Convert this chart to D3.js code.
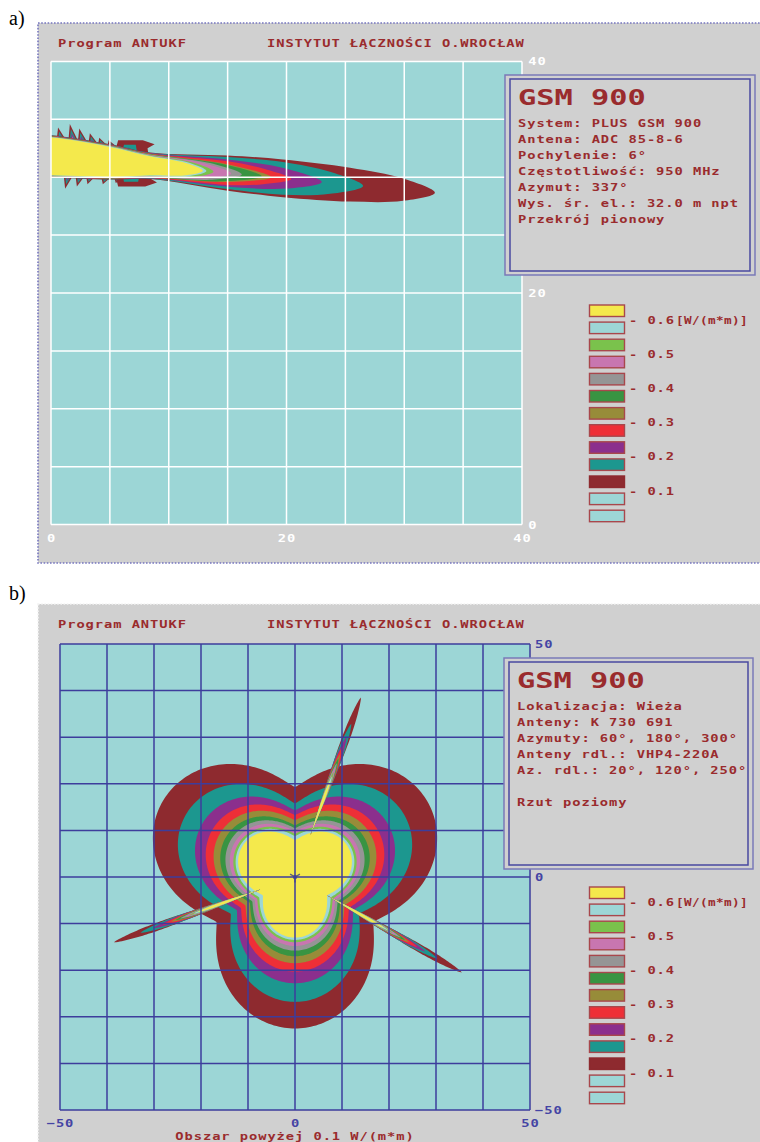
<!DOCTYPE html>
<html>
<head>
<meta charset="utf-8">
<script src="https://cdn.jsdelivr.net/npm/d3@7"></script>
<style>
  body { margin: 0; background: #fff; }
  svg { display: block; }
  .mono { font-family: "DejaVu Sans Mono", monospace; font-weight: bold; }
</style>
</head>
<body>
<svg id="chart" width="760" height="1142"></svg>
<script>
// ---- data ----
// contour levels, inside (yellow) to outside (dark red)
var levelColors = ["#f4e94c", "#9dd6d6", "#7ac24c", "#c876b0", "#959595", "#389442",
    "#978c39", "#ee2f37", "#8b2f8d", "#1c978f", "#8e2a2f"];
var legendColors = levelColors.concat(["#9dd6d6", "#9dd6d6"]);
var legendLabels = ["0.6", "0.5", "0.4", "0.3", "0.2", "0.1"];
var legendUnit = "[W/(m*m)]";

var headerLeft = "Program ANTUKF";
var headerRight = "INSTYTUT ŁĄCZNOŚCI O.WROCŁAW";

// a) vertical section (distance m, height m)
var sectionTicks = [0, 20, 40];
var sectionInfo = ["System: PLUS GSM 900", "Antena: ADC 85-8-6", "Pochylenie: 6°",
    "Częstotliwość: 950 MHz", "Azymut: 337°", "Wys. śr. el.: 32.0 m npt", "Przekrój pionowy"];
var beamHeight = 31.8;     // lobe axis at x = 0
var axisTilt = 5.5;        // lobe axis slope as drawn, degrees
var lobeReach = [12.9, 13.2, 13.8, 15.3, 16.2, 17.9, 18.7, 20.4, 23.0, 26.5, 32.6];
// [distance, half width] along the lobe axis, m
var lobeProfiles = [
    [[0, 1.62], [5, 1.30], [8.4, 0.82], [11.5, 0.52]],
    [[0, 1.64], [5, 1.33], [8.4, 0.86], [11.8, 0.56]],
    [[0, 1.66], [5, 1.36], [8.4, 0.90], [12.2, 0.60]],
    [[0, 1.68], [5, 1.38], [8.4, 0.94], [13.0, 0.66]],
    [[0, 1.70], [5, 1.40], [8.4, 0.97], [13.5, 0.72]],
    [[0, 1.72], [5, 1.42], [8.4, 1.00], [14.5, 0.76]],
    [[0, 1.74], [5, 1.44], [8.4, 1.03], [15.0, 0.76]],
    [[0, 1.76], [5, 1.46], [8.4, 1.06], [15.0, 1.02], [18.0, 0.68]],
    [[0, 1.78], [5, 1.48], [8.4, 1.09], [15.0, 1.17], [20.0, 0.86]],
    [[0, 1.80], [5, 1.50], [8.4, 1.12], [15.0, 1.38], [19.7, 1.42], [23.7, 0.95]],
    [[0, 1.82], [5, 1.52], [8.4, 1.15], [15.0, 1.52], [19.7, 1.63], [25.4, 1.46], [29.9, 0.96]]
];
var upperSpikes = [[0.6, 34.3], [1.6, 34.6], [2.4, 34.2], [3.3, 33.8], [4.1, 33.4], [4.9, 33.2]];
var lowerSpikes = [[1.2, 29.0], [2.2, 29.2], [3.1, 29.4], [4.4, 29.4], [5.5, 29.5]];
var sideWings = [[5.2, 8.8, 33.2], [5.2, 9.0, 29.2]];

// b) plan view (m)
var planTicks = [-50, 0, 50];
var planInfo = ["Lokalizacja: Wieża", "Anteny: K 730 691", "Azymuty: 60°, 180°, 300°",
    "Anteny rdl.: VHP4-220A", "Az. rdl.: 20°, 120°, 250°", "", "Rzut poziomy"];
var planCaption = "Obszar powyżej 0.1 W/(m*m)";
var lobeAzimuths = [60, 180, 300];
var contourMax = [13.0, 13.5, 14.0, 14.8, 15.8, 17.0, 18.5, 20.3, 22.8, 26.8, 32.5];
var contourMin = [7.9, 8.8, 9.3, 9.9, 10.5, 11.1, 12.2, 13.3, 14.3, 15.8, 19.3];
var linkAzimuths = [20, 120, 250];
var linkStart = [9.5, 7.8, 7.6];
var linkLevelReach = [22, 23, 24, 25, 26, 27, 28, 30, 32, 35, 41];
var linkWidth = [0.25, 0.3, 0.35, 0.4, 0.45, 0.5, 0.55, 0.6, 0.65, 0.75, 0.85];

var textRed = "#9a2b2d";
var gray = "#d0d0d0";
var sea = "#9cd6d6";
var deg = Math.PI / 180;

var svg = d3.select("#chart");

// wide bitmap-like text: glyphs stretched horizontally
function monoText(g, x, y, str, size, stretch, spacing, color) {
    return g.append("text")
        .attr("class", "mono")
        .attr("transform", "translate(" + x + "," + y + ") scale(" + stretch + ",1)")
        .attr("font-size", size)
        .attr("letter-spacing", spacing)
        .attr("fill", color || textRed)
        .text(str);
}
function smallText(g, x, y, str, color) {
    return monoText(g, x, y, str, 11, 1.25, 0.75, color);
}

function panel(top, height, borderColor, label, labelY) {
    svg.append("text")
        .attr("x", 9).attr("y", labelY)
        .attr("font-family", "Liberation Serif, serif")
        .attr("font-size", 20)
        .text(label);
    svg.append("rect")
        .attr("x", 38).attr("y", top)
        .attr("width", 740).attr("height", height)
        .attr("fill", gray)
        .attr("stroke", borderColor)
        .attr("stroke-width", 1.6)
        .attr("stroke-dasharray", "1.6,1.6");
    smallText(svg, 58, top + 24, headerLeft);
    smallText(svg, 267, top + 24, headerRight);
}

function infoBox(x, y, w, h, lines) {
    svg.append("rect").attr("x", x).attr("y", y).attr("width", w).attr("height", h)
        .attr("fill", gray).attr("stroke", "#7a7ab8").attr("stroke-width", 1.5);
    svg.append("rect").attr("x", x + 5).attr("y", y + 4).attr("width", w - 10).attr("height", h - 8)
        .attr("fill", "none").attr("stroke", "#4848a0").attr("stroke-width", 1.5);
    monoText(svg, x + 13, y + 30, "GSM 900", 22, 1.38, 0, textRed);
    lines.forEach(function (s, i) {
        smallText(svg, x + 13, y + 52 + i * 16, s);
    });
}

function legend(top) {
    var g = svg.append("g");
    g.selectAll("rect").data(legendColors).enter().append("rect")
        .attr("x", 589.5).attr("y", (d, i) => top + i * 17.1)
        .attr("width", 35).attr("height", 11.5)
        .attr("fill", d => d)
        .attr("stroke", (d, i) => i === 10 ? "#8e2a2f" : "#a8474c")
        .attr("stroke-width", 1.4);
    legendLabels.forEach(function (s, i) {
        smallText(g, 629, top + 18.5 + i * 34.2, "- " + s);
    });
    monoText(g, 676, top + 18.5, legendUnit, 11, 1.15, 0.35, textRed);
}

// ================= a) vertical section =================
panel(23, 540, "#7676bf", "a)", 25);

var xA = d3.scaleLinear().domain([0, 40]).range([51, 522]);
var yA = d3.scaleLinear().domain([0, 40]).range([524.6, 61.4]);

svg.append("clipPath").attr("id", "clipA").append("rect")
    .attr("x", 51).attr("y", 61.4).attr("width", 471).attr("height", 463.2);

var plotA = svg.append("g").attr("clip-path", "url(#clipA)");
plotA.append("rect").attr("x", 51).attr("y", 61.4).attr("width", 471).attr("height", 463.2).attr("fill", sea);

function beamCenter(t) { return beamHeight - t * Math.tan(axisTilt * deg); }

var lineA = d3.line().x(d => xA(d[0])).y(d => yA(d[1]));

// side lobe spikes near the antenna
function spike(tip, side) {
    var bx = tip[0] + 0.35;
    var b = beamCenter(bx) + side * 1.2;
    [["#8e2a2f", 1], ["#1c978f", 0.75], ["#8b2f8d", 0.55], ["#c876b0", 0.4]].forEach(function (c) {
        var k = c[1];
        var ty = b + (tip[1] - b) * k;
        var tx = bx + (tip[0] - bx) * k;
        plotA.append("path")
            .attr("d", lineA([[bx - 0.5 * k, b], [tx, ty], [bx + 0.5 * k, b]]) + "Z")
            .attr("fill", c[0]);
    });
}
upperSpikes.forEach(s => spike(s, 1));
lowerSpikes.forEach(s => spike(s, -1));

// thin ledges of the side lobes, pointed at the far end
sideWings.forEach(function (w) {
    var c0 = beamCenter(w[0]), c1 = beamCenter(w[1]);
    var dir = w[2] > c0 ? -1 : 1;
    plotA.append("path")
        .attr("d", lineA([[w[0], c0], [w[0] + 0.5, w[2]], [w[1] - 1.0, w[2]],
            [w[1], w[2] + dir * 0.35], [w[1] - 0.6, w[2] + dir * 0.7], [w[1] - 0.4, c1]]) + "Z")
        .attr("fill", "#8e2a2f");
    plotA.append("path")
        .attr("d", lineA([[w[0] + 0.6, c0], [w[0] + 1.0, w[2] + dir * 0.4], [w[1] - 1.6, w[2] + dir * 0.4],
            [w[1] - 1.3, c1]]) + "Z")
        .attr("fill", "#1c978f");
    plotA.append("path")
        .attr("d", lineA([[w[0] + 1.0, c0], [w[0] + 1.3, w[2] + dir * 0.65], [w[1] - 2.2, w[2] + dir * 0.65],
            [w[1] - 2.0, c1]]) + "Z")
        .attr("fill", "#8b2f8d");
});

// main lobe, outer level first; outline through the profile points
var outlineA = d3.line().x(d => xA(d[0])).y(d => yA(d[1])).curve(d3.curveCatmullRomClosed.alpha(0.5));
d3.range(levelColors.length - 1, -1, -1).forEach(function (k) {
    var prof = lobeProfiles[k];
    var h0 = prof[0][1];
    var top = prof.map(p => [p[0], beamCenter(p[0]) + p[1]]);
    var bottom = prof.map(p => [p[0], beamCenter(p[0]) - p[1]]).reverse();
    var pts = [[-2, beamCenter(0) + h0]].concat(top, [[lobeReach[k], beamCenter(lobeReach[k])]],
        bottom, [[-2, beamCenter(0) - h0]]);
    plotA.append("path").attr("d", outlineA(pts)).attr("fill", levelColors[k]);
});

// white grid
var gridA = svg.append("g").attr("stroke", "#ffffff").attr("stroke-width", 1.5);
d3.range(0, 41, 5).forEach(function (v) {
    gridA.append("line").attr("x1", xA(v)).attr("x2", xA(v)).attr("y1", yA(0)).attr("y2", yA(40));
    gridA.append("line").attr("x1", xA(0)).attr("x2", xA(40)).attr("y1", yA(v)).attr("y2", yA(v));
});

function styleAxis(g, color) {
    g.select(".domain").remove();
    g.selectAll("text")
        .attr("class", "mono")
        .attr("font-size", 11)
        .attr("letter-spacing", 0.75)
        .attr("transform", "scale(1.25,1)")
        .attr("fill", color);
}

svg.append("g").attr("transform", "translate(0," + yA(0) + ")")
    .call(d3.axisBottom(xA).tickValues(sectionTicks).tickSize(0).tickPadding(10))
    .call(g => styleAxis(g, "#ffffff"));
svg.append("g").attr("transform", "translate(" + xA(40) + ",0)")
    .call(d3.axisRight(yA).tickValues(sectionTicks).tickSize(0).tickPadding(5))
    .call(g => styleAxis(g, "#ffffff"));

infoBox(505, 75, 250, 200, sectionInfo);
legend(305);

// ================= b) plan view =================
panel(604, 560, "#f4f4f4", "b)", 600);

var xB = d3.scaleLinear().domain([-50, 50]).range([60, 530]);
var yB = d3.scaleLinear().domain([-50, 50]).range([1110, 644]);

svg.append("clipPath").attr("id", "clipB").append("rect")
    .attr("x", 60).attr("y", 644).attr("width", 470).attr("height", 466);

var plotB = svg.append("g").attr("clip-path", "url(#clipB)");
plotB.append("rect").attr("x", 60).attr("y", 644).attr("width", 470).attr("height", 466).attr("fill", sea);

var lineB = d3.line().x(d => xB(d[0])).y(d => yB(d[1]));

function polar(r, az) { return [r * Math.sin(az * deg), r * Math.cos(az * deg)]; }

// three-sector contours
d3.range(levelColors.length - 1, -1, -1).forEach(function (k) {
    var pts = d3.range(0, 360, 1).map(function (az) {
        var lobe = d3.max(lobeAzimuths, a => (1 + Math.cos((az - a) * deg * 3)) / 2);
        var r = contourMin[k] + (contourMax[k] - contourMin[k]) * Math.pow(lobe, 0.6);
        return polar(r, az);
    });
    plotB.append("path").attr("d", lineB(pts) + "Z").attr("fill", levelColors[k]);
});

// radio link beams
linkAzimuths.forEach(function (az, j) {
    var r0 = linkStart[j];
    d3.range(levelColors.length - 1, -1, -1).forEach(function (k) {
        var R = linkLevelReach[k];
        var side = [], other = [];
        d3.range(0, 81).forEach(function (i) {
            var u = i / 80;
            var r = r0 + (R - r0) * u;
            var h = linkWidth[k] * Math.pow(Math.sin(Math.PI * Math.pow(u, 1.8)), 0.7);
            var c = polar(r, az), n = polar(h, az + 90);
            side.push([c[0] + n[0], c[1] + n[1]]);
            other.push([c[0] - n[0], c[1] - n[1]]);
        });
        plotB.append("path").attr("d", lineB(side.concat(other.reverse())) + "Z")
            .attr("fill", levelColors[k]);
    });
});

// antenna mark at the tower
var mast = svg.append("g").attr("stroke", "#606078").attr("stroke-width", 1.4);
lobeAzimuths.forEach(function (az) {
    var p = polar(1.2, az);
    mast.append("line").attr("x1", xB(0)).attr("y1", yB(0)).attr("x2", xB(p[0])).attr("y2", yB(p[1]));
});
mast.append("circle").attr("cx", xB(0)).attr("cy", yB(0)).attr("r", 1.5).attr("fill", "#606078");

// blue grid
var gridB = svg.append("g").attr("stroke", "#3d3d9c").attr("stroke-width", 1.5);
d3.range(-50, 51, 10).forEach(function (v) {
    gridB.append("line").attr("x1", xB(v)).attr("x2", xB(v)).attr("y1", yB(-50)).attr("y2", yB(50));
    gridB.append("line").attr("x1", xB(-50)).attr("x2", xB(50)).attr("y1", yB(v)).attr("y2", yB(v));
});

svg.append("g").attr("transform", "translate(0," + yB(-50) + ")")
    .call(d3.axisBottom(xB).tickValues(planTicks).tickSize(0).tickPadding(9).tickFormat(d3.format("d")))
    .call(g => styleAxis(g, "#4444a4"));
svg.append("g").attr("transform", "translate(" + xB(50) + ",0)")
    .call(d3.axisRight(yB).tickValues(planTicks).tickSize(0).tickPadding(4).tickFormat(d3.format("d")))
    .call(g => styleAxis(g, "#4444a4"));

smallText(svg, 295, 1140, planCaption).attr("text-anchor", "middle");

infoBox(504, 658, 249, 211, planInfo);
legend(887);
</script>
</body>
</html>
